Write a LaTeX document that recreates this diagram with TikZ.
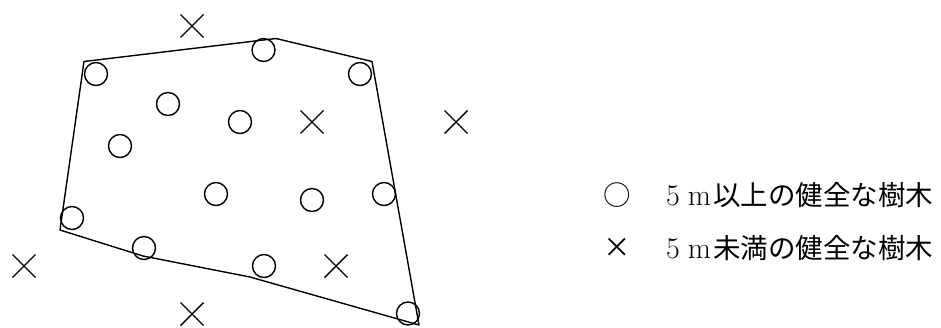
\documentclass[tikz,border=0pt]{standalone}
\usepackage{fontspec}
\newfontfamily\jp{Noto Sans CJK JP}
\tikzset{
  tree/.style={circle,draw,line width=1.4pt,minimum size=23pt,inner sep=0pt},
  edge/.style={line width=1.4pt,line join=round},
  notree/.pic={\draw[line width=1.4pt] (-11.5,-11.5) -- (11.5,11.5) (-11.5,11.5) -- (11.5,-11.5);},
  legend/.style={anchor=west,inner sep=0pt,font=\fontsize{27.5}{30}\selectfont}
}
\newcommand{\fivem}{{\fontsize{30}{32}\selectfont 5\hspace{8pt}m\hspace{2pt}}}
\begin{document}
\begin{tikzpicture}[x=1pt,y=-1pt]
\useasboundingbox (0,0) rectangle (941,327);
% boundary
\coordinate (p1) at (84,61.5);
\coordinate (p2) at (276,38.5);
\coordinate (p3) at (372,61.5);
\coordinate (p4) at (419,325);
\coordinate (p5) at (250,277);
\coordinate (p6) at (143,256);
\coordinate (p7) at (60,230);
\draw[edge] (p1) -- (p2) -- (p3) -- (p4) -- (p5) -- (p6) -- (p7) -- cycle;
% healthy trees >= 5 m
\node[tree] (c1) at (96,74) {};
\node[tree] (c2) at (263.5,50) {};
\node[tree] (c3) at (360,74) {};
\node[tree] (c4) at (168,104) {};
\node[tree] (c5) at (240,122) {};
\node[tree] (c6) at (120,146) {};
\node[tree] (c7) at (216,194) {};
\node[tree] (c8) at (312,200) {};
\node[tree] (c9) at (384,194) {};
\node[tree] (c10) at (72,218) {};
\node[tree] (c11) at (144,248) {};
\node[tree] (c12) at (264,266) {};
\node[tree] (c13) at (408,313.5) {};
% healthy trees < 5 m
\pic at (192,26) {notree};
\pic at (312,122) {notree};
\pic at (456,122) {notree};
\pic at (24,266) {notree};
\pic at (336,266) {notree};
\pic at (192,314) {notree};
% legend
\node[legend,anchor=center] (s1) at (617,195) {\jp ○};
\node[legend] (t1) at (666,195) {\fivem\jp 以上の健全な樹木};
\node[legend,anchor=center] (s2) at (617,248) {\jp ×};
\node[legend] (t2) at (666,248) {\fivem\jp 未満の健全な樹木};
\end{tikzpicture}
\end{document}
